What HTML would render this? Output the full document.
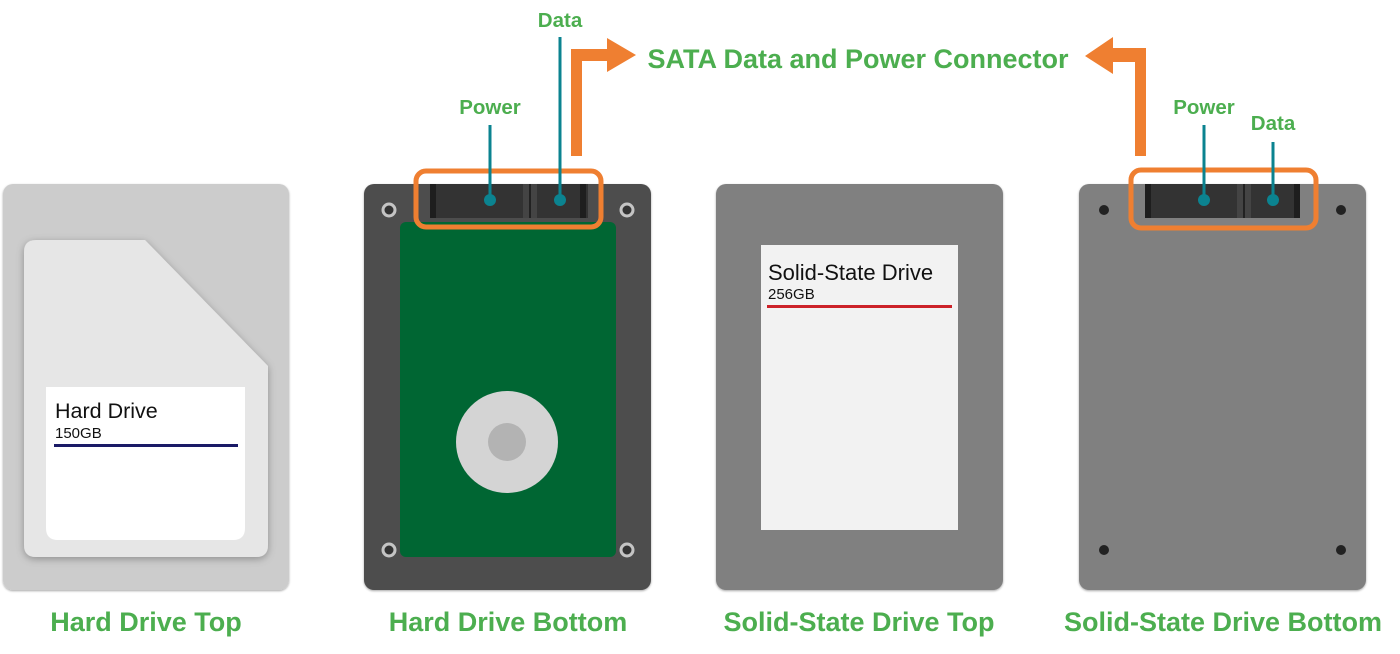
<!DOCTYPE html>
<html><head><meta charset="utf-8"><style>
html,body{margin:0;padding:0;background:#fff;width:1400px;height:654px;overflow:hidden}
svg text{font-family:"Liberation Sans",Arial,sans-serif}
.g{fill:#4cae4f;font-weight:bold}
</style></head><body>
<svg width="1400" height="654" viewBox="0 0 1400 654" xmlns="http://www.w3.org/2000/svg">
<defs>
<filter id="sh" x="-20%" y="-20%" width="140%" height="140%"><feDropShadow dx="0" dy="2" stdDeviation="4" flood-color="#000" flood-opacity="0.3"/></filter>
<filter id="sh2" x="-10%" y="-10%" width="120%" height="120%"><feDropShadow dx="0" dy="1" stdDeviation="1" flood-color="#000" flood-opacity="0.35"/></filter>
</defs>
<!-- Panel 1 -->
<rect x="3" y="184" width="286" height="406" rx="10" fill="#cccccc" filter="url(#sh2)"/>
<path d="M36 240 H145 L268 366 V545 Q268 557 256 557 H36 Q24 557 24 545 V252 Q24 240 36 240Z" fill="#e6e6e6" filter="url(#sh)"/>
<path d="M46 387 H245 V528 Q245 540 233 540 H58 Q46 540 46 528Z" fill="#fff"/>
<text x="55" y="418" font-size="21.5" fill="#111">Hard Drive</text>
<text x="55" y="438" font-size="15" fill="#111">150GB</text>
<rect x="54" y="444" width="184" height="3" fill="#1a1a66"/>
<!-- Panel 2 -->
<rect x="364" y="184" width="287" height="406" rx="10" fill="#4d4d4d" filter="url(#sh2)"/>
<rect x="400" y="222" width="216" height="335" rx="6" fill="#006633"/>
<circle cx="507" cy="442" r="51" fill="#d4d4d4"/>
<circle cx="507" cy="442" r="19" fill="#b3b3b3"/>
<g fill="#333" stroke="#c4c4c4" stroke-width="3">
<circle cx="389" cy="210" r="6"/><circle cx="627" cy="210" r="6"/>
<circle cx="389" cy="550" r="6"/><circle cx="627" cy="550" r="6"/></g>
<rect x="430" y="184" width="158" height="34" fill="#333"/>
<rect x="430" y="184" width="6" height="34" fill="#1e1e1e"/>
<rect x="580" y="184" width="6" height="34" fill="#1e1e1e"/>
<rect x="523" y="184" width="14" height="34" fill="#444"/>
<rect x="529" y="184" width="2" height="34" fill="#222"/>
<rect x="416" y="171" width="185" height="56" rx="10" fill="none" stroke="#ef7f31" stroke-width="5"/>
<line x1="490" y1="125" x2="490" y2="200" stroke="#0b8390" stroke-width="3"/>
<circle cx="490" cy="200" r="6" fill="#0b8390"/>
<line x1="560" y1="37" x2="560" y2="200" stroke="#0b8390" stroke-width="3"/>
<circle cx="560" cy="200" r="6" fill="#0b8390"/>
<text class="g" x="490" y="114" font-size="20.5" text-anchor="middle">Power</text>
<text class="g" x="560" y="27" font-size="20.5" text-anchor="middle">Data</text>
<path d="M571 156 V49 H607 V38 L636 55 L607 72 V61 H582 V156Z" fill="#ef7f31"/>
<!-- Panel 3 -->
<rect x="716" y="184" width="287" height="406" rx="10" fill="#808080" filter="url(#sh2)"/>
<rect x="761" y="245" width="197" height="285" fill="#f2f2f2"/>
<text x="768" y="280" font-size="22" fill="#111">Solid-State Drive</text>
<text x="768" y="299" font-size="15" fill="#111">256GB</text>
<rect x="767" y="305" width="185" height="3" fill="#cc2229"/>
<!-- Panel 4 -->
<rect x="1079" y="184" width="287" height="406" rx="10" fill="#808080" filter="url(#sh2)"/>
<g fill="#222"><circle cx="1104" cy="210" r="5"/><circle cx="1341" cy="210" r="5"/>
<circle cx="1104" cy="550" r="5"/><circle cx="1341" cy="550" r="5"/></g>
<rect x="1145" y="184" width="155" height="34" fill="#333"/>
<rect x="1145" y="184" width="6" height="34" fill="#1e1e1e"/>
<rect x="1294" y="184" width="6" height="34" fill="#1e1e1e"/>
<rect x="1237" y="184" width="14" height="34" fill="#444"/>
<rect x="1243" y="184" width="2" height="34" fill="#222"/>
<rect x="1131" y="170" width="185" height="58" rx="10" fill="none" stroke="#ef7f31" stroke-width="5"/>
<line x1="1204" y1="125" x2="1204" y2="200" stroke="#0b8390" stroke-width="3"/>
<circle cx="1204" cy="200" r="6" fill="#0b8390"/>
<line x1="1273" y1="142" x2="1273" y2="200" stroke="#0b8390" stroke-width="3"/>
<circle cx="1273" cy="200" r="6" fill="#0b8390"/>
<text class="g" x="1204" y="114" font-size="20.5" text-anchor="middle">Power</text>
<text class="g" x="1273" y="130" font-size="20.5" text-anchor="middle">Data</text>
<path d="M1146 156 V48 H1113 V37 L1085 56 L1113 74 V62 H1135 V156Z" fill="#ef7f31"/>
<!-- Titles -->
<text class="g" x="858" y="68" font-size="27" text-anchor="middle">SATA Data and Power Connector</text>
<text class="g" x="146" y="631" font-size="27" text-anchor="middle">Hard Drive Top</text>
<text class="g" x="508" y="631" font-size="27" text-anchor="middle">Hard Drive Bottom</text>
<text class="g" x="859" y="631" font-size="27" text-anchor="middle">Solid-State Drive Top</text>
<text class="g" x="1223" y="631" font-size="27" text-anchor="middle">Solid-State Drive Bottom</text>
</svg>
</body></html>
